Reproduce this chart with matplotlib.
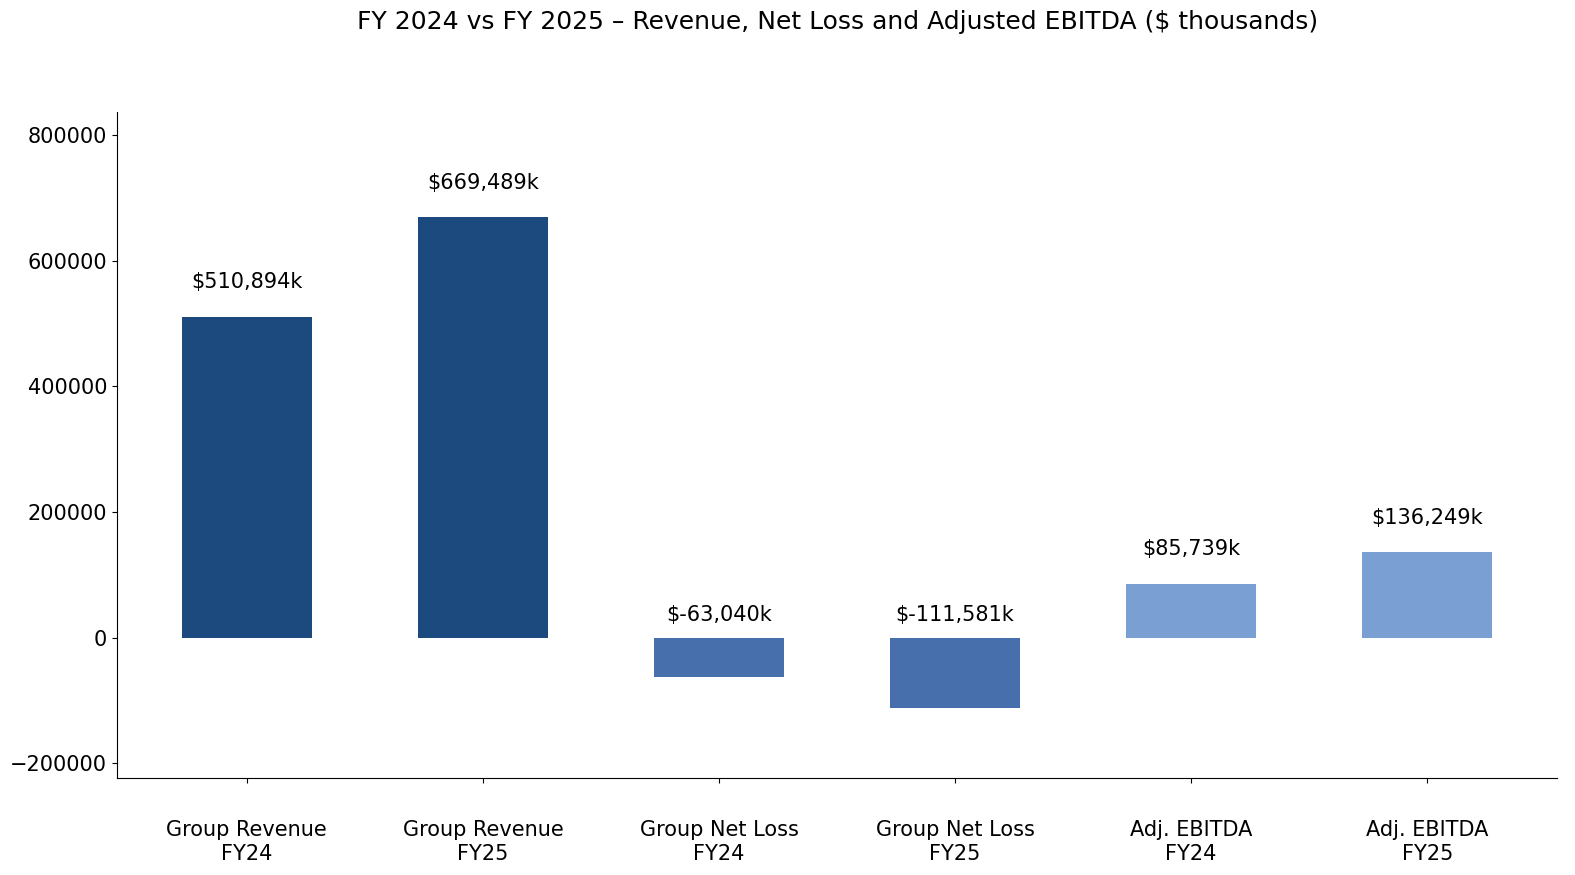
import numpy as np
import matplotlib
matplotlib.use("Agg")
import matplotlib.pyplot as plt

# FY24 / FY25 figures, $ thousands
categories = ["Group Revenue\nFY24", "Group Revenue\nFY25",
              "Group Net Loss\nFY24", "Group Net Loss\nFY25",
              "Adj. EBITDA\nFY24", "Adj. EBITDA\nFY25"]
values = [510894, 669489, -63040, -111581, 85739, 136249]
bar_colors = ["#1c4a7e", "#1c4a7e", "#466fab", "#466fab", "#7aa0d3", "#7aa0d3"]
yticks = [-200000, 0, 200000, 400000, 600000, 800000]

fig = plt.figure(figsize=(15.75, 8.75), dpi=100)
ax = fig.add_axes([0.0743, 0.1109, 0.9143, 0.7611])

x = np.arange(len(categories))
ax.bar(x, values, width=0.55, color=bar_colors)

top = max(values)
for xi, v in zip(x, values):
    if v >= 0:
        y = v + 0.058 * top
    else:
        y = 0.03 * top
    ax.text(xi, y, f"${v:,}k", ha="center", va="bottom", fontsize=15)

ax.set_xlim(-0.55, 5.55)
ax.set_ylim(min(values) * 2, top * 1.25)
ax.set_xticks(x)
ax.set_xticklabels(categories, fontsize=15)
ax.set_yticks(yticks)
ax.tick_params(axis="y", labelsize=15)
ax.tick_params(axis="x", pad=27)
ax.spines["top"].set_visible(False)
ax.spines["right"].set_visible(False)

# title centred over the axes, not the figure
fig.suptitle("FY 2024 vs FY 2025 \u2013 Revenue, Net Loss and Adjusted EBITDA ($ thousands)",
             fontsize=18, x=0.5315, y=0.975, va="center")

fig.savefig("out.png", dpi=100)
